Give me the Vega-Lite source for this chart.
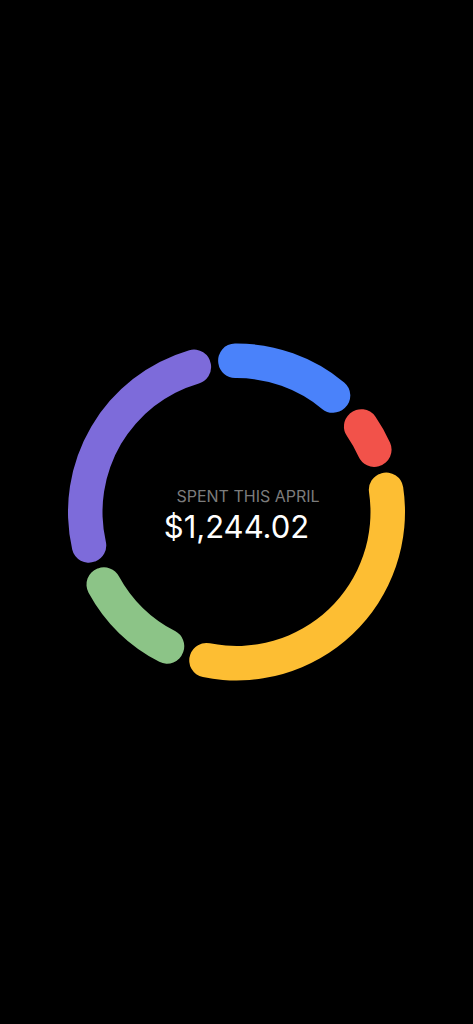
{
  "$schema": "https://vega.github.io/schema/vega-lite/v6.json",
  "width": 473,
  "height": 1024,
  "autosize": {"type": "fit", "contains": "padding"},
  "padding": 0,
  "background": "#000000",
  "config": {"view": {"stroke": null}},
  "layer": [
    {
      "data": {
        "values": [
          {"category": "Blue", "idx": 1, "amount": 193.5},
          {"category": "Red", "idx": 2, "amount": 89.85},
          {"category": "Yellow", "idx": 3, "amount": 434.7},
          {"category": "Green", "idx": 4, "amount": 172.4},
          {"category": "Purple", "idx": 5, "amount": 353.57}
        ]
      },
      "mark": {"type": "arc", "innerRadius": 134, "outerRadius": 168.5, "cornerRadius": 17, "padAngle": 0.035},
      "encoding": {
        "theta": {"field": "amount", "type": "quantitative", "stack": true, "scale": {"range": [-0.1466, 6.1366]}},
        "order": {"field": "idx", "type": "quantitative"},
        "color": {
          "field": "category",
          "type": "nominal",
          "scale": {"domain": ["Blue", "Red", "Yellow", "Green", "Purple"], "range": ["#4A82FA", "#F2524A", "#FDBE33", "#8CC487", "#7D6BDA"]},
          "legend": null
        }
      }
    },
    {
      "data": {"values": [{"label": "SPENT THIS APRIL", "total": "$1,244.02"}]},
      "layer": [
        {
          "mark": {"type": "text", "font": "Inter", "fontSize": 16, "color": "#7c7c7c", "baseline": "alphabetic", "align": "center", "dx": 11.5, "dy": -10},
          "encoding": {"text": {"field": "label"}}
        },
        {
          "mark": {"type": "text", "font": "Inter", "fontSize": 31, "color": "#ffffff", "baseline": "alphabetic", "align": "center", "dx": 0, "dy": 26},
          "encoding": {"text": {"field": "total"}}
        }
      ]
    }
  ]
}
